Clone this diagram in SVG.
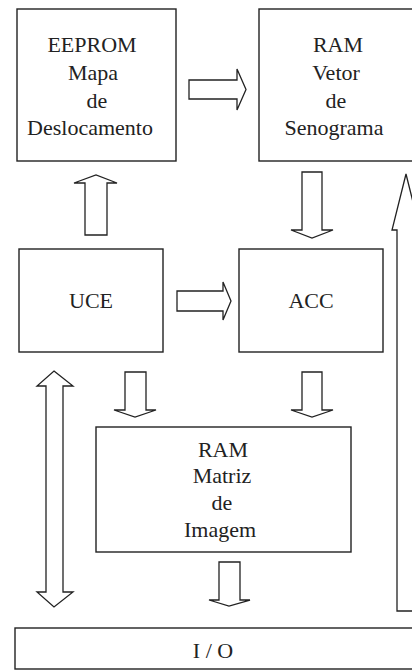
<svg xmlns="http://www.w3.org/2000/svg" width="412" height="671" viewBox="0 0 412 671">
<style>
.box{fill:#fff;stroke:#222;stroke-width:1.4}
.arr{fill:#fff;stroke:#222;stroke-width:1.3;stroke-linejoin:miter}
.t{font-family:'Liberation Serif','Times New Roman','DejaVu Serif',serif;font-size:22px;fill:#222;text-anchor:middle}
</style>
<rect width="412" height="671" fill="#fff"/>
<g id="eeprom">
<rect class="box" x="17" y="9" width="159" height="152"/>
<text class="t" x="92" y="52">EEPROM</text>
<text class="t" x="93" y="80">Mapa</text>
<text class="t" x="97" y="108">de</text>
<text class="t" x="90" y="135">Deslocamento</text>
</g>
<g id="ram-vetor">
<rect class="box" x="259" y="9" width="170" height="152"/>
<text class="t" x="338" y="52">RAM</text>
<text class="t" x="336" y="80">Vetor</text>
<text class="t" x="336" y="108">de</text>
<text class="t" x="334" y="135">Senograma</text>
</g>
<g id="uce">
<rect class="box" x="19" y="249" width="144" height="103"/>
<text class="t" x="91" y="308">UCE</text>
</g>
<g id="acc">
<rect class="box" x="239" y="249" width="144" height="103"/>
<text class="t" x="311" y="308">ACC</text>
</g>
<g id="ram-matriz">
<rect class="box" x="96" y="427" width="255" height="125"/>
<text class="t" x="223" y="457">RAM</text>
<text class="t" x="222" y="483">Matriz</text>
<text class="t" x="222" y="510">de</text>
<text class="t" x="220" y="537">Imagem</text>
</g>
<g id="io">
<rect class="box" x="15" y="628" width="420" height="41"/>
<text class="t" x="213" y="658">I / O</text>
</g>
<g id="connectors">
<polygon class="arr" points="189,80 237,80 237,69 246,89.5 237,110 237,99 189,99"/>
<polygon class="arr" points="85,235 85,183 74,183 96,175 117,183 107,183 107,235"/>
<polygon class="arr" points="302,172 322,172 322,230 333,230 312,238 291,230 302,230"/>
<polygon class="arr" points="177,291 223,291 223,282 231,301 223,320 223,311 177,311"/>
<polygon class="arr" points="125,372 146,372 146,410 156,410 135,417 114,410 125,410"/>
<polygon class="arr" points="302,372 322,372 322,410 333,410 312,417 291,410 302,410"/>
<polygon class="arr" points="219,562 240,562 240,600 250,600 229,606 209,600 219,600"/>
<polygon class="arr" points="54,371 73,386 63,386 63,592 73,592 54,607 37,592 46,592 46,386 37,386"/>
<polygon class="arr" points="406,174 420,230 415,230 415,611 397,611 397,230 392,230"/>
</g>
</svg>
